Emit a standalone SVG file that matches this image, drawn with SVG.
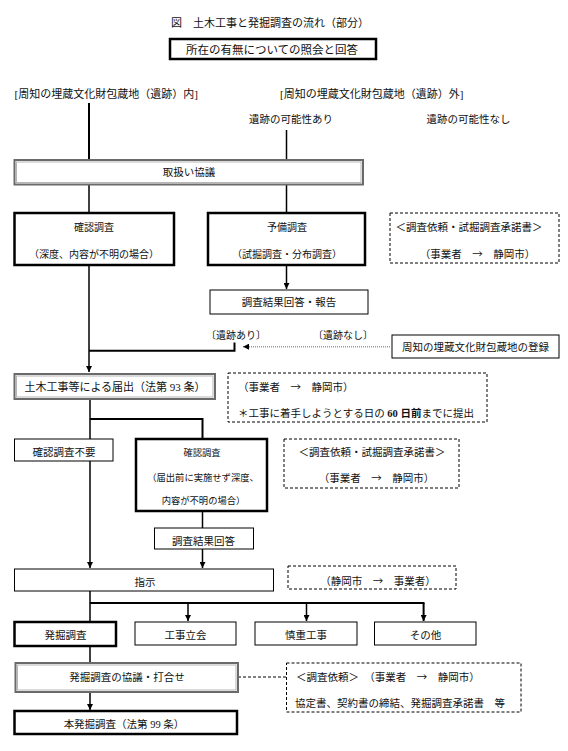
<svg xmlns="http://www.w3.org/2000/svg" width="568" height="751" viewBox="0 0 568 751">
<style>
text{font-family:"Liberation Serif","Noto Sans CJK JP",serif;font-size:10.5px;fill:#111}
.c{text-anchor:middle}
.ar{font-family:"Noto Sans CJK JP",sans-serif}
.thick{fill:#fff;stroke:#000;stroke-width:2.5}
.thin{fill:#fff;stroke:#000;stroke-width:1}
.gray{fill:#fff;stroke:#6a6a6a;stroke-width:2}
.grayin{fill:none;stroke:#b5b5b5;stroke-width:1}
.dash{fill:none;stroke:#000;stroke-width:1;stroke-dasharray:3,2}
.ln{fill:none;stroke:#000;stroke-width:1.5}
.lnb{fill:none;stroke:#000;stroke-width:2}
.sm{font-size:9.3px}
</style>
<defs>
<marker id="ah" markerUnits="userSpaceOnUse" markerWidth="6" markerHeight="6" refX="6" refY="3" orient="auto">
<path d="M0,0 L6,3 L0,6 z" fill="#000"/>
</marker>
</defs>
<rect width="568" height="751" fill="#fff"/>
<text id="title" class="c" x="270" y="26.5" style="font-size:11px">図　土木工事と発掘調査の流れ（部分）</text>

<g id="connectors">
<line class="lnb" x1="89" y1="103" x2="89" y2="160"/>
<line class="ln" x1="286.5" y1="130" x2="286.5" y2="160"/>
<line class="ln" x1="89" y1="185" x2="89" y2="213"/>
<line class="ln" x1="286.5" y1="185" x2="286.5" y2="213"/>
<line class="ln" x1="286.5" y1="266" x2="286.5" y2="289" marker-end="url(#ah)"/>
<line class="ln" x1="89" y1="266" x2="89" y2="372" marker-end="url(#ah)"/>
<polyline class="lnb" points="234.5,342.5 234.5,350.7 89,350.7"/>
<line x1="390" y1="346.7" x2="243" y2="346.7" stroke="#9a9a9a" stroke-width="1.5" stroke-dasharray="1,1" marker-end="url(#ah)"/>
<line class="ln" x1="90" y1="400" x2="90" y2="439"/>
<polyline class="lnb" points="90,419 202.5,419 202.5,439"/>
<line class="ln" x1="202.5" y1="512" x2="202.5" y2="528"/>
<line class="ln" x1="202.5" y1="549" x2="202.5" y2="568" marker-end="url(#ah)"/>
<line class="ln" x1="90" y1="461" x2="90" y2="568" marker-end="url(#ah)"/>
<line class="ln" x1="90" y1="591" x2="90" y2="622"/>
<line class="lnb" x1="90" y1="603" x2="424.5" y2="603"/>
<line class="ln" x1="188" y1="603" x2="188" y2="621" marker-end="url(#ah)"/>
<line class="ln" x1="306.5" y1="603" x2="306.5" y2="621" marker-end="url(#ah)"/>
<line class="lnb" x1="423.6" y1="603" x2="423.6" y2="621" marker-end="url(#ah)"/>
<line class="ln" x1="90" y1="647" x2="90" y2="663"/>
<line class="dash" x1="238" y1="677" x2="287" y2="677"/>
<line class="ln" x1="90" y1="693" x2="90" y2="710" marker-end="url(#ah)"/>
</g>

<g id="n-shozai">
<rect class="thick" x="170" y="39" width="206" height="20"/>
<text class="c" x="272" y="54" style="font-size:11.5px">所在の有無についての照会と回答</text>
</g>
<g id="l-inside"><text x="14.5" y="98" style="font-size:11px">[周知の埋蔵文化財包蔵地（遺跡）内]</text></g>
<g id="l-outside"><text x="280" y="98" style="font-size:11px">[周知の埋蔵文化財包蔵地（遺跡）外]</text></g>
<g id="l-kanou-ari"><text class="c" x="291" y="123">遺跡の可能性あり</text></g>
<g id="l-kanou-nashi"><text class="c" x="468.5" y="123">遺跡の可能性なし</text></g>

<g id="n-toriatsukai">
<rect class="gray" x="14.5" y="160" width="348.5" height="24.5"/>
<rect class="grayin" x="16.5" y="162" width="344.5" height="20.5"/>
<text class="c" x="189" y="176">取扱い協議</text>
</g>

<g id="n-kakunin1">
<rect class="thick" x="14.5" y="213" width="159.5" height="52"/>
<text class="c" x="94" y="231" style="font-size:10px">確認調査</text>
<text class="c" x="94" y="258" style="font-size:10px">（深度、内容が不明の場合）</text>
</g>
<g id="n-yobi">
<rect class="thick" x="208" y="213" width="157" height="52"/>
<text class="c" x="287" y="231" style="font-size:10px">予備調査</text>
<text class="c" x="287" y="258" style="font-size:10px">（試掘調査・分布調査）</text>
</g>
<g id="n-irai1">
<rect class="dash" x="390" y="213" width="169" height="50"/>
<text class="c" x="469" y="231">＜調査依頼・試掘調査承諾書＞</text>
<text class="c" x="477.5" y="258">（事業者　<tspan class="ar">→</tspan>　静岡市）</text>
</g>
<g id="n-kekka1">
<rect class="thin" x="210" y="290" width="158" height="24"/>
<text class="c" x="289" y="306">調査結果回答・報告</text>
</g>
<g id="l-ari"><text class="c" x="236" y="339" style="font-size:10px">〔遺跡あり〕</text></g>
<g id="l-nashi"><text class="c" x="343" y="339" style="font-size:10px">〔遺跡なし〕</text></g>
<g id="n-touroku">
<rect class="thin" x="392" y="335" width="167" height="23"/>
<text class="c" x="475.5" y="351">周知の埋蔵文化財包蔵地の登録</text>
</g>

<g id="n-todokede">
<rect class="gray" x="14.5" y="374" width="200.5" height="25"/>
<rect class="grayin" x="16.5" y="376" width="196.5" height="21"/>
<text class="c" x="115" y="391" style="font-size:11px">土木工事等による届出（法第 93 条）</text>
</g>
<g id="n-todokede-note">
<rect class="dash" x="228" y="373" width="259" height="49"/>
<text x="238" y="391">（事業者　<tspan class="ar">→</tspan>　静岡市）</text>
<text x="238" y="417">＊工事に着手しようとする日の <tspan font-weight="bold">60 日前</tspan>までに提出</text>
</g>

<g id="n-fuyou">
<rect class="thin" x="14.5" y="439" width="98.5" height="22"/>
<text class="c" x="64" y="456">確認調査不要</text>
</g>
<g id="n-kakunin2">
<rect class="thick" x="136" y="439" width="131" height="72"/>
<text class="c sm" x="202" y="456">確認調査</text>
<text class="c sm" x="203" y="481">（届出前に実施せず深度、</text>
<text class="c sm" x="203.5" y="504">内容が不明の場合）</text>
</g>
<g id="n-irai2">
<rect class="dash" x="284" y="439" width="175" height="49"/>
<text class="c" x="372" y="456">＜調査依頼・試掘調査承諾書＞</text>
<text class="c" x="376.5" y="482">（事業者　<tspan class="ar">→</tspan>　静岡市）</text>
</g>
<g id="n-kekka2">
<rect class="thin" x="154.5" y="528" width="99" height="21"/>
<text class="c" x="203.6" y="545">調査結果回答</text>
</g>

<g id="n-shiji">
<rect class="thin" x="14.5" y="569" width="259" height="22"/>
<text class="c" x="145" y="586">指示</text>
</g>
<g id="n-shiji-note">
<rect class="dash" x="288" y="566" width="168" height="23"/>
<text class="c" x="378" y="585">（静岡市　<tspan class="ar">→</tspan>　事業者）</text>
</g>

<g id="n-hakkutsu">
<rect class="thick" x="14.5" y="622" width="101.5" height="24"/>
<text class="c" x="65.5" y="639">発掘調査</text>
</g>
<g id="n-tachiai">
<rect class="thin" x="135" y="622" width="101" height="23"/>
<text class="c" x="185.5" y="639">工事立会</text>
</g>
<g id="n-shincho">
<rect class="thin" x="255" y="622" width="102" height="23"/>
<text class="c" x="306" y="639">慎重工事</text>
</g>
<g id="n-sonota">
<rect class="thin" x="374.5" y="622" width="101.5" height="23"/>
<text class="c" x="425.5" y="639">その他</text>
</g>

<g id="n-kyougi">
<rect class="gray" x="15.5" y="663" width="222.5" height="29"/>
<rect class="grayin" x="17.5" y="665" width="218.5" height="25"/>
<text class="c" x="127" y="681">発掘調査の協議・打合せ</text>
</g>
<g id="n-kyougi-note">
<rect class="dash" x="286.5" y="663" width="234.5" height="49"/>
<text x="296" y="681">＜調査依頼＞　（事業者　<tspan class="ar">→</tspan>　静岡市）</text>
<text x="295" y="707">協定書、契約書の締結、発掘調査承諾書　等</text>
</g>

<g id="n-honhakkutsu">
<rect class="thick" x="14.5" y="711" width="222.5" height="23"/>
<text class="c" x="124" y="728">本発掘調査（法第 99 条）</text>
</g>
</svg>
